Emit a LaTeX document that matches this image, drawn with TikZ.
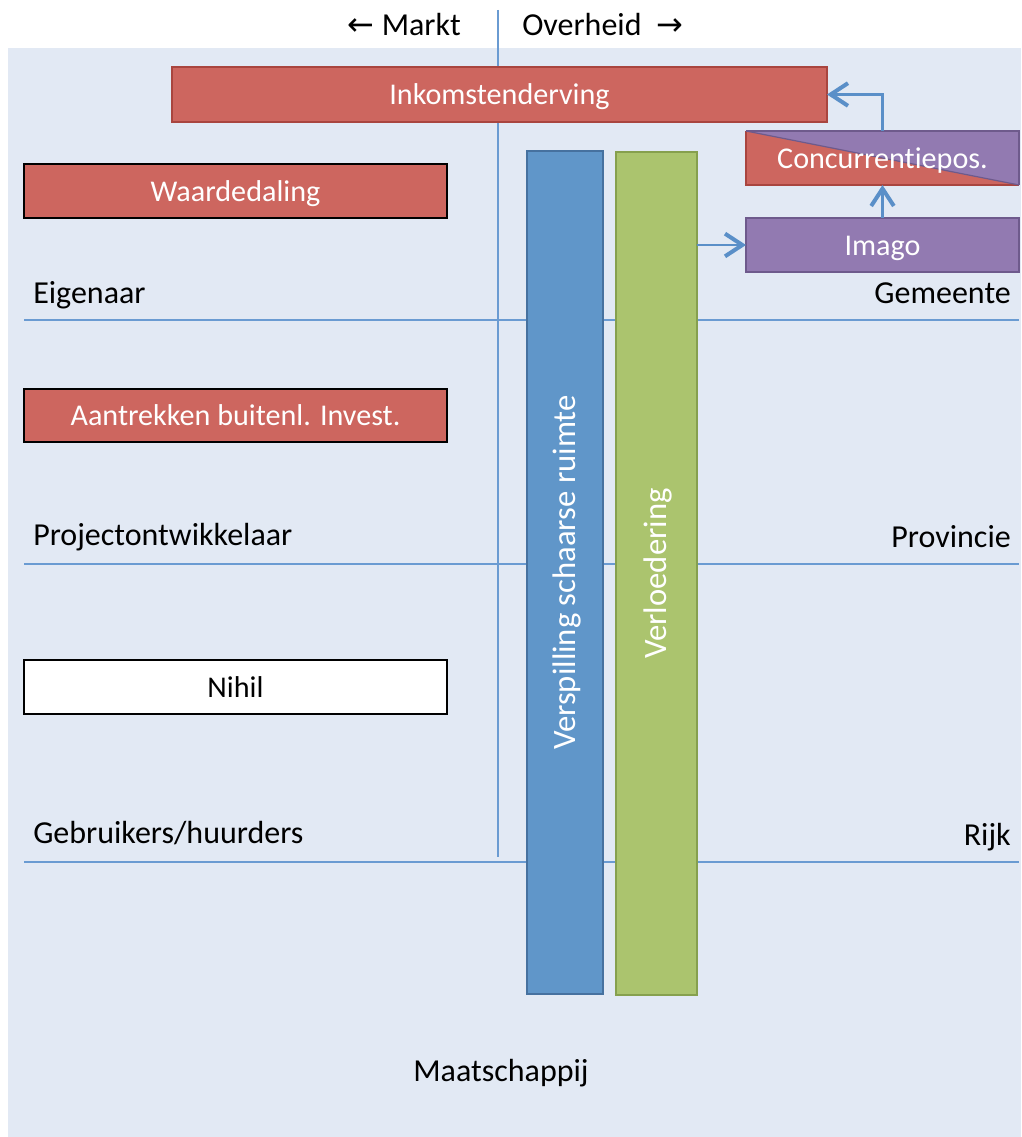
\documentclass[tikz,border=0pt]{standalone}
\usepackage{fontspec}
\setmainfont{Carlito}[Ligatures=NoCommon]
\newfontfamily\symfont{DejaVu Sans}
\usetikzlibrary{arrows.meta}
\definecolor{bgblue}{HTML}{E2E9F4}
\definecolor{gridblue}{HTML}{6A9BD2}
\definecolor{boxred}{HTML}{CD665F}
\definecolor{boxreddark}{HTML}{A9453F}
\definecolor{boxpurple}{HTML}{927AB1}
\definecolor{boxpurpledark}{HTML}{6E5A8C}
\definecolor{barblue}{HTML}{6096C9}
\definecolor{barbluedark}{HTML}{46719F}
\definecolor{bargreen}{HTML}{ABC46E}
\definecolor{bargreendark}{HTML}{86A04E}
\definecolor{arrowblue}{HTML}{5A8FC8}
\begin{document}
\begin{tikzpicture}[x=0.75pt,y=-0.75pt,
  font=\fontsize{24}{28}\selectfont,
  base/.style={inner sep=0pt, outer sep=0pt, text=white, text height=15.5pt, text depth=0pt,
    font=\fontsize{22.6}{27}\selectfont},
  redbox/.style={base, fill=boxred, draw=boxreddark, line width=0.9pt},
  actorbox/.style={base, fill=boxred, draw=black, line width=1.4pt},
  emptybox/.style={base, fill=white, draw=black, line width=1.4pt, text=black},
  purplebox/.style={base, fill=boxpurple, draw=boxpurpledark, line width=0.9pt},
  bartext/.style={base, rotate=90, font=\fontsize{24.5}{28}\selectfont},
  gridline/.style={draw=gridblue, line width=1.5pt},
  actor/.style={inner sep=0pt, text=black},
  flow/.style={draw=arrowblue, line width=1.6pt,
    -{Straight Barb[length=13pt, width=17pt, line width=3pt]}}
]
\useasboundingbox (0,0) rectangle (1021,1137);
% panel
\fill[bgblue] (8,48) rectangle (1021,1137);

% market / government divider and actor levels
\draw[gridline] (498,10) -- (498,857);
\draw[gridline] (24,320) -- (1019,320);
\draw[gridline] (24,564) -- (1019,564);
\draw[gridline] (24,862) -- (1019,862);

% column headings
\node[actor, anchor=base east] (markt) at (461,36) {{\symfont\fontsize{24}{28}\selectfont ←}\ Markt};
\node[actor, anchor=base west] (overheid) at (522,36) {Overheid\ \ {\symfont\fontsize{24}{28}\selectfont →}};

% actor labels
\node[actor, anchor=base west] (eig) at (33,304) {Eigenaar};
\node[actor, anchor=base east] (gem) at (1011,304) {Gemeente};
\node[actor, anchor=base west] (proj) at (33,545) {Projectontwikkelaar};
\node[actor, anchor=base east] (prov) at (1011,547) {Provincie};
\node[actor, anchor=base west] (gebr) at (33,843) {Gebruikers/huurders};
\node[actor, anchor=base east] (rijk) at (1011,845) {Rijk};
\node[actor, anchor=base] (maat) at (501,1081) {Maatschappij};

% effects per actor
\node[redbox, minimum width=491.25pt, minimum height=41.25pt] (ink) at (499.5,94.5) {Inkomstenderving};
\node[actorbox, minimum width=317.25pt, minimum height=40.5pt] (waarde) at (235.5,191) {Waardedaling};
\node[actorbox, minimum width=317.25pt, minimum height=40pt] (aantr) at (235.5,415.5) {Aantrekken buitenl. Invest.};
\node[emptybox, minimum width=317.25pt, minimum height=40.5pt] (nihil) at (235.5,687) {Nihil};

% society-wide effects
\node[base, fill=barblue, draw=barbluedark, line width=1pt, minimum width=57pt, minimum height=632.25pt] (verspil) at (565,572.5) {};
\node[bartext] (verspiltxt) at (verspil.center) {Verspilling schaarse ruimte};
\node[base, fill=bargreen, draw=bargreendark, line width=1pt, minimum width=60.75pt, minimum height=632.25pt] (verloed) at (656.5,573.5) {};
\node[bartext] (verloedtxt) at (verloed.center) {Verloedering};

% government chain
\node[purplebox, minimum width=204.75pt, minimum height=40.5pt] (imago) at (882.5,245) {Imago};
\node[base, fill=boxred, minimum width=204.75pt, minimum height=40.5pt,
  path picture={\fill[boxpurple] (path picture bounding box.north west) -- (path picture bounding box.north east) -- (path picture bounding box.south east) -- cycle;}]
  (conc) at (882.5,158) {};
\draw[boxreddark, line width=0.9pt] (conc.north west) -- (conc.south west) -- (conc.south east);
\draw[boxpurpledark, line width=0.9pt] (conc.north west) -- (conc.north east) -- (conc.south east);
\draw[boxpurpledark, line width=0.9pt] (conc.north west) -- (conc.south east);
\node[base] (conctxt) at (conc.center) {Concurrentiepos.};

% causal arrows
\draw[flow] (verloed.east |- imago.west) -- (imago.west);
\draw[flow] (imago.north) -- (conc.south);
\draw[flow] (conc.north) |- (ink.east);
\end{tikzpicture}
\end{document}
